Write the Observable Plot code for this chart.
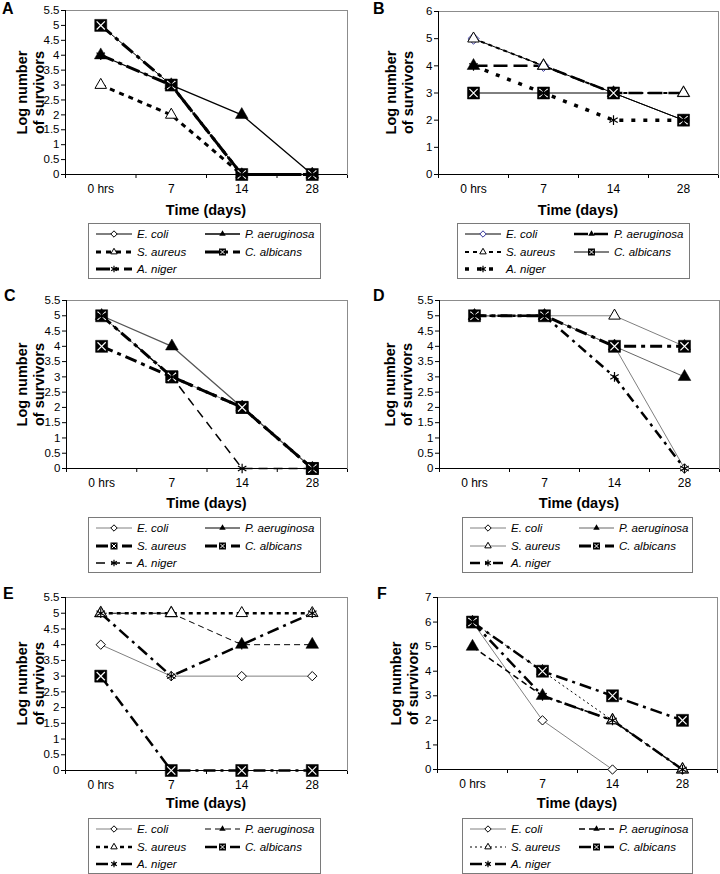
<!DOCTYPE html>
<html><head><meta charset="utf-8">
<script src="https://cdn.jsdelivr.net/npm/d3@7"></script>
<script src="https://cdn.jsdelivr.net/npm/@observablehq/plot@0.6"></script>
<style>
body{margin:0;background:#fff;font-family:"Liberation Sans",Arial,sans-serif;color:#000;}
#root{position:relative;width:720px;height:874px;overflow:hidden;background:#fff;}
.abs{position:absolute;}
.letter{font-weight:bold;font-size:16px;line-height:16px;}
.xtitle{font-weight:bold;font-size:14.5px;line-height:16px;text-align:center;white-space:nowrap;}
.ylab{font-weight:bold;font-size:14.5px;line-height:16.5px;text-align:center;white-space:nowrap;transform:rotate(-90deg);}
.legend{border:1px solid #7a7a7a;box-sizing:border-box;background:#fff;}
.legend .txt{position:absolute;font-style:italic;font-size:11.5px;line-height:14px;white-space:nowrap;}
.legend svg{position:absolute;overflow:visible;}
</style></head><body><div id="root"></div>
<script>
// ---------- data ----------
const days = ["0 hrs", "7", "14", "28"];
const species = ["E. coli", "P. aeruginosa", "S. aureus", "C. albicans", "A. niger"];
const panelLetters = ["A", "B", "C", "D", "E", "F"];
const yMax = [5.5, 6, 5.5, 5.5, 5.5, 7];
const yStep = [0.5, 1, 0.5, 0.5, 0.5, 1];
const xTitle = "Time (days)";
const yTitle = ["Log number", "of survivors"];
// values per species (order as in `species`), per time point (order as in `days`)
const panelA = [[5,3,0,0],[4,3,2,0],[3,2,0,0],[5,3,0,0],[4,3,0,0]];
const panelB = [[5,4,3,2],[4,4,3,3],[5,4,3,3],[3,3,3,2],[4,3,2,2]];
const panelC = [[5,3,2,0],[5,4,2,0],[5,3,2,0],[4,3,2,0],[5,3,0,0]];
const panelD = [[5,5,4,0],[5,5,4,3],[5,5,5,4],[5,5,4,4],[5,5,3,0]];
const panelE = [[4,3,3,3],[5,5,4,4],[5,5,5,5],[3,0,0,0],[5,3,4,5]];
const panelF = [[6,2,0,0],[5,3,2,0],[6,4,2,0],[6,4,3,2],[6,3,2,0]];
const panels = [panelA, panelB, panelC, panelD, panelE, panelF];

// ---------- styles (not data) ----------
const styleA = [
  {c:"#000", w:1,   d:null,        m:"dia"},
  {c:"#000", w:1.3, d:null,        m:"triF"},
  {c:"#000", w:3,   d:"5,5",       m:"triO"},
  {c:"#000", w:3,   d:"14,5,4,5",  m:"sqx"},
  {c:"#000", w:3,   d:"14,5,4,5",  m:"ast"}
];
const styleB = [
  {c:"#000", w:1,   d:null,        m:"dia", mc:"#33339a", r:5},
  {c:"#000", w:2.5, d:"14,6",      m:"triF"},
  {c:"#000", w:2,   d:"4,4",       m:"triO"},
  {c:"#000", w:1,   d:null,        m:"sqx"},
  {c:"#000", w:3.5, d:"4,8",       m:"ast"}
];
const styleC = [
  {c:"#808080", w:1,   d:null,       m:"dia"},
  {c:"#555",    w:1.3, d:null,       m:"triF"},
  {c:"#000",    w:3,   d:"12,5,4,5", m:"sqx"},
  {c:"#000",    w:3,   d:"12,5,4,5", m:"sqx"},
  {c:"#000",    w:1.5, d:"9,6",      m:"ast"}
];
const styleD = [
  {c:"#808080", w:1,   d:null,        m:"dia"},
  {c:"#666",    w:1,   d:null,        m:"triF"},
  {c:"#808080", w:1,   d:null,        m:"triO"},
  {c:"#000",    w:3,   d:"12,5,4,5",  m:"sqx"},
  {c:"#000",    w:2.5, d:"10,5,3,5",  m:"ast"}
];
const styleE = [
  {c:"#808080", w:1,   d:null,        m:"dia"},
  {c:"#000",    w:1,   d:"6,4",       m:"triF"},
  {c:"#000",    w:2.5, d:"4,4",       m:"triO"},
  {c:"#000",    w:2.5, d:"12,5,3,5",  m:"sqx"},
  {c:"#000",    w:2.5, d:"12,5,3,5",  m:"ast"}
];
const styleF = [
  {c:"#808080", w:1,   d:null,        m:"dia"},
  {c:"#000",    w:1.5, d:"6,4",       m:"triF"},
  {c:"#000",    w:1,   d:"2,3",       m:"triO"},
  {c:"#000",    w:2.5, d:"12,5,3,5",  m:"sqx"},
  {c:"#000",    w:2.5, d:"12,5,3,5",  m:"ast"}
];
const styles = [styleA, styleB, styleC, styleD, styleE, styleF];

// ---------- layout (pixel geometry) ----------
const geo = [
  {svgLeft:0,   l:65,  r:347, t:10,  b:174, letterX:2,   letterY:0.5,   ylabX:30,  titleTop:202,   legL:88,  legT:223, legW:233},
  {svgLeft:360, l:438, r:718, t:11,  b:174, letterX:373, letterY:0.5,   ylabX:399, titleTop:202,   legL:457, legT:223, legW:233},
  {svgLeft:0,   l:66,  r:347, t:300, b:468, letterX:4,   letterY:287.5, ylabX:30,  titleTop:494.5, legL:88,  legT:517, legW:233},
  {svgLeft:360, l:439, r:719, t:300, b:468, letterX:373, letterY:287.5, ylabX:398, titleTop:494.5, legL:462, legT:517, legW:231},
  {svgLeft:0,   l:65,  r:347, t:597, b:770, letterX:3,   letterY:585.5, ylabX:30,  titleTop:795,   legL:88,  legT:818, legW:233},
  {svgLeft:360, l:437, r:717, t:597, b:769, letterX:377, letterY:585.5, ylabX:404, titleTop:795,   legL:462, legT:818, legW:231}
];

const root = document.getElementById("root");
function div(cls, css, html) {
  const e = document.createElement("div");
  e.className = "abs " + cls;
  Object.assign(e.style, css);
  if (html != null) e.innerHTML = html;
  root.appendChild(e);
  return e;
}

function markerMarks(data, S) {
  const base = {x: "i", y: "v"};
  switch (S.m) {
    case "dia": return [Plot.dot(data, {...base, symbol: "diamond2", r: S.r || 4.2, fill: "white", stroke: S.mc || "#000", strokeWidth: 1})];
    case "triF": return [Plot.dot(data, {...base, symbol: "triangle", r: 4.7, fill: "#000", stroke: "#000", strokeWidth: 0.5})];
    case "triO": return [Plot.dot(data, {...base, symbol: "triangle", r: 4.3, fill: "white", stroke: "#000", strokeWidth: 1})];
    case "sqx": return [
      Plot.dot(data, {...base, symbol: "square", r: 6.8, fill: "#000", stroke: "#000", strokeWidth: 0.5}),
      Plot.dot(data, {...base, symbol: "times", r: 3.8, fill: "none", stroke: "white", strokeWidth: 1.2})
    ];
    case "ast": return [Plot.dot(data, {...base, symbol: "asterisk", r: 4.6, fill: "none", stroke: "#000", strokeWidth: 1.2})];
  }
  return [];
}

function legendSample(S, w) {
  const h = 12;
  const svg = d3.create("svg").attr("width", w).attr("height", h);
  svg.append("line").attr("x1", 0).attr("x2", w).attr("y1", h / 2).attr("y2", h / 2)
    .attr("stroke", S.c).attr("stroke-width", S.w).attr("stroke-dasharray", S.d || null);
  const g = svg.append("g").attr("transform", `translate(${w / 2},${h / 2})`);
  const sym = (t, size) => d3.symbol(t, size)();
  switch (S.m) {
    case "dia": g.append("path").attr("d", sym(d3.symbolDiamond2, 26)).attr("fill", "white").attr("stroke", S.mc || "#000"); break;
    case "triF": g.append("path").attr("d", sym(d3.symbolTriangle, 18)).attr("fill", "#000"); break;
    case "triO": g.append("path").attr("d", sym(d3.symbolTriangle, 18)).attr("fill", "white").attr("stroke", "#000"); break;
    case "sqx":
      g.append("path").attr("d", sym(d3.symbolSquare, 49)).attr("fill", "#000");
      g.append("path").attr("d", sym(d3.symbolTimes, 14)).attr("fill", "none").attr("stroke", "white").attr("stroke-width", 1);
      break;
    case "ast": g.append("path").attr("d", sym(d3.symbolAsterisk, 30)).attr("fill", "none").attr("stroke", "#000").attr("stroke-width", 1.2); break;
  }
  return svg.node();
}

panels.forEach((vals, p) => {
  const G = geo[p];
  const st = styles[p];
  const rows = [];
  vals.forEach((series, s) => series.forEach((v, i) => rows.push({s, i, v})));
  const marks = [Plot.frame({stroke: "#8c8c8c"})];
  for (let s = 0; s < species.length; s++) {
    const data = rows.filter(r => r.s === s);
    const S = st[s];
    marks.push(Plot.line(data, {x: "i", y: "v", stroke: S.c, strokeWidth: S.w, strokeDasharray: S.d || undefined, strokeLinejoin: "round", strokeLinecap: "butt"}));
  }
  marks.push(Plot.ruleX([-0.5], {stroke: "#000"}));
  marks.push(Plot.ruleY([0], {stroke: "#000"}));
  for (let s = 0; s < species.length; s++) {
    const data = rows.filter(r => r.s === s);
    marks.push(...markerMarks(data, st[s]));
  }
  marks.push(Plot.text(days, {x: (d, i) => i, y: () => 0, dy: 15, text: d => d, fontSize: 12, fill: "#000"}));

  const plotH = G.b - G.t;
  const chart = Plot.plot({
    width: 360,
    height: plotH + 40,
    marginLeft: G.l - G.svgLeft,
    marginRight: G.svgLeft + 360 - G.r,
    marginTop: 10,
    marginBottom: 30,
    style: {fontFamily: "'Liberation Sans', Arial, sans-serif", fontSize: "11.5px", background: "transparent", overflow: "visible", color: "#000"},
    x: {domain: [-0.5, 3.5], ticks: [-0.5, 0.5, 1.5, 2.5, 3.5], tickFormat: () => "", tickSize: 4, label: null},
    y: {domain: [0, yMax[p]], ticks: d3.range(0, yMax[p] + 1e-9, yStep[p]), tickSize: 4, tickPadding: 2, tickFormat: d => String(d), label: null},
    marks
  });
  chart.style.position = "absolute";
  chart.style.left = G.svgLeft + "px";
  chart.style.top = (G.t - 10) + "px";
  root.appendChild(chart);

  // panel letter
  div("letter", {left: G.letterX + "px", top: G.letterY + "px"}, panelLetters[p]);
  // y title
  const yc = (G.t + G.b) / 2;
  div("ylab", {left: (G.ylabX - 60) + "px", top: (yc - 16.5) + "px", width: "120px", height: "33px"}, yTitle.join("<br>"));
  // x title
  div("xtitle", {left: G.l + "px", width: (G.r - G.l) + "px", top: G.titleTop + "px"}, xTitle);
  // legend
  const lg = div("legend", {left: G.legL + "px", top: G.legT + "px", width: G.legW + "px", height: "56px"});
  const rowY = [11, 29, 46];
  const colS = [8, 117], colW = [36, 35], colT = [49, 157];
  species.forEach((name, s) => {
    const r = Math.floor(s / 2), c = s % 2;
    const svg = legendSample(st[s], colW[c]);
    svg.style.left = (colS[c] - 1) + "px";
    svg.style.top = (rowY[r] - 7) + "px";
    lg.appendChild(svg);
    const t = document.createElement("div");
    t.className = "txt";
    t.style.left = (colT[c] - 1) + "px";
    t.style.top = (rowY[r] - 8) + "px";
    t.textContent = name;
    lg.appendChild(t);
  });
});
</script></body></html>
